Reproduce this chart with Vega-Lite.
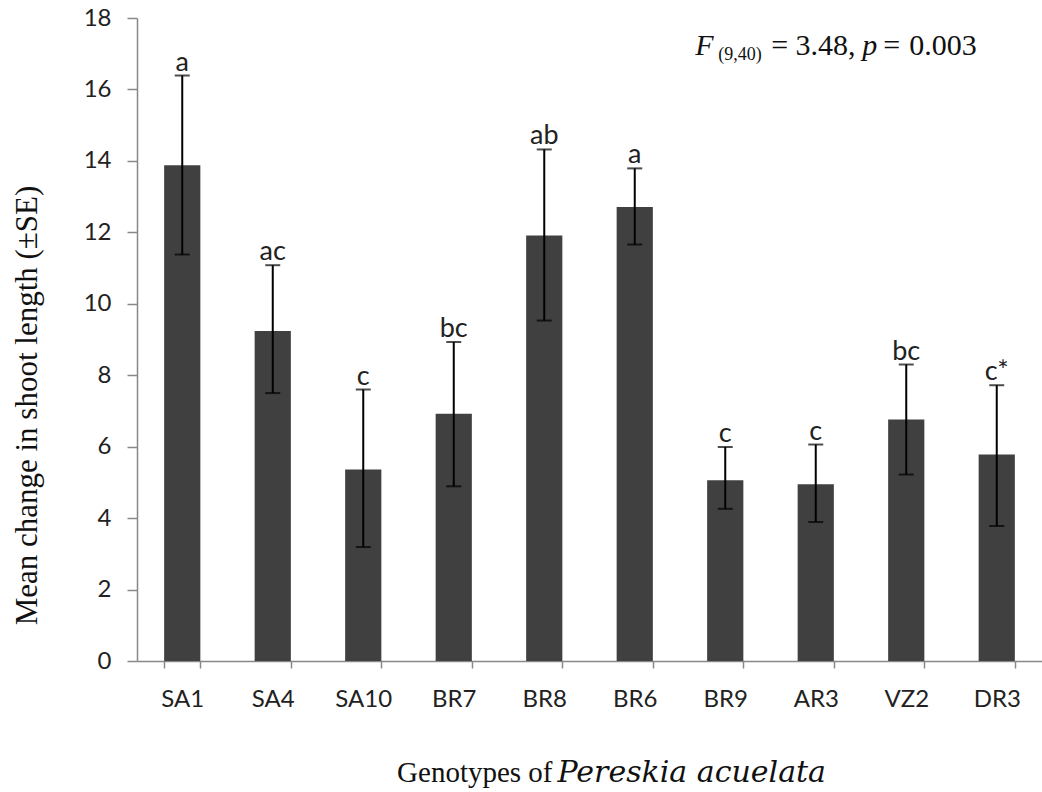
{
  "$schema": "https://vega.github.io/schema/vega-lite/v6.json",
  "width": 905,
  "height": 643,
  "autosize": {"type": "none"},
  "padding": {"left": 137, "top": 18, "right": 0, "bottom": 131},
  "background": "white",
  "config": {
    "view": {"stroke": null},
    "axis": {
      "domainColor": "#888888",
      "domainWidth": 1.5,
      "tickColor": "#888888",
      "tickWidth": 1.5,
      "grid": false,
      "labelFont": "Lato",
      "labelFontSize": 24,
      "labelColor": "#222222",
      "titleColor": "#111111",
      "titleFontWeight": "normal"
    }
  },
  "data": {
    "values": [
      {"genotype": "SA1", "mean": 13.88, "lo": 11.38, "hi": 16.39, "letter": "a"},
      {"genotype": "SA4", "mean": 9.24, "lo": 7.5, "hi": 11.08, "letter": "ac"},
      {"genotype": "SA10", "mean": 5.36, "lo": 3.19, "hi": 7.6, "letter": "c"},
      {"genotype": "BR7", "mean": 6.92, "lo": 4.89, "hi": 8.93, "letter": "bc"},
      {"genotype": "BR8", "mean": 11.91, "lo": 9.53, "hi": 14.32, "letter": "ab"},
      {"genotype": "BR6", "mean": 12.71, "lo": 11.66, "hi": 13.79, "letter": "a"},
      {"genotype": "BR9", "mean": 5.06, "lo": 4.26, "hi": 5.99, "letter": "c"},
      {"genotype": "AR3", "mean": 4.95, "lo": 3.89, "hi": 6.06, "letter": "c"},
      {"genotype": "VZ2", "mean": 6.76, "lo": 5.22, "hi": 8.3, "letter": "bc"},
      {"genotype": "DR3", "mean": 5.78, "lo": 3.78, "hi": 7.72, "letter": "c*"}
    ]
  },
  "resolve": {"axis": {"x": "independent"}},
  "layer": [
    {
      "mark": {"type": "bar", "color": "#404040"},
      "encoding": {
        "x": {
          "field": "genotype", "type": "nominal",
          "scale": {"domain": ["SA1","SA4","SA10","BR7","BR8","BR6","BR9","AR3","VZ2","DR3"], "paddingInner": 0.6, "paddingOuter": 0.3},
          "axis": {
            "orient": "bottom",
            "labelAngle": 0,
            "tickSize": 7,
            "tickBand": "extent",
            "labelPadding": 19,
            "title": "Genotypes of",
            "titleFont": "Liberation Serif",
            "titleFontSize": 29,
            "titleAlign": "right",
            "titleAnchor": "start",
            "titleBaseline": "alphabetic",
            "titleX": 415,
            "titleY": 120
          }
        },
        "y": {
          "field": "mean", "type": "quantitative",
          "scale": {"domain": [0, 18], "nice": false},
          "axis": {
            "values": [0, 2, 4, 6, 8, 10, 12, 14, 16, 18],
            "tickSize": 10,
            "labelPadding": 16,
            "title": "Mean change in shoot length (±SE)",
            "titleFont": "Liberation Serif",
            "titleFontSize": 31,
            "titleAngle": -90,
            "titleAlign": "center",
            "titleBaseline": "alphabetic",
            "titleX": -101,
            "titleY": 387
          }
        }
      }
    },
    {
      "mark": {"type": "rule", "color": "#000000", "strokeWidth": 2},
      "encoding": {
        "x": {"field": "genotype", "type": "nominal", "scale": {"domain": ["SA1","SA4","SA10","BR7","BR8","BR6","BR9","AR3","VZ2","DR3"]}, "axis": null},
        "y": {"field": "lo", "type": "quantitative", "title": "Mean change in shoot length (±SE)"},
        "y2": {"field": "hi"}
      }
    },
    {
      "mark": {"type": "tick", "color": "#000000", "size": 15, "thickness": 2, "orient": "horizontal"},
      "encoding": {
        "x": {"field": "genotype", "type": "nominal", "scale": {"domain": ["SA1","SA4","SA10","BR7","BR8","BR6","BR9","AR3","VZ2","DR3"]}, "axis": null},
        "y": {"field": "hi", "type": "quantitative", "title": "Mean change in shoot length (±SE)"}
      }
    },
    {
      "mark": {"type": "tick", "color": "#000000", "size": 15, "thickness": 2, "orient": "horizontal"},
      "encoding": {
        "x": {"field": "genotype", "type": "nominal", "scale": {"domain": ["SA1","SA4","SA10","BR7","BR8","BR6","BR9","AR3","VZ2","DR3"]}, "axis": null},
        "y": {"field": "lo", "type": "quantitative", "title": "Mean change in shoot length (±SE)"}
      }
    },
    {
      "mark": {"type": "text", "font": "Lato", "fontSize": 27, "color": "#222222", "baseline": "alphabetic", "align": "center", "dy": -5},
      "encoding": {
        "x": {
          "field": "genotype", "type": "nominal",
          "scale": {"domain": ["SA1","SA4","SA10","BR7","BR8","BR6","BR9","AR3","VZ2","DR3"]},
          "axis": {
            "orient": "bottom",
            "labels": false,
            "ticks": false,
            "domain": false,
            "title": "Pereskia acuelata",
            "titleFont": "DejaVu Serif",
            "titleFontStyle": "italic",
            "titleFontSize": 30,
            "titleAlign": "left",
            "titleAnchor": "start",
            "titleBaseline": "alphabetic",
            "titleX": 420,
            "titleY": 120
          }
        },
        "y": {"field": "hi", "type": "quantitative", "title": "Mean change in shoot length (±SE)"},
        "text": {"field": "letter"}
      }
    },
    {
      "data": {"values": [{"t": "F"}]},
      "mark": {"type": "text", "font": "Liberation Serif", "fontStyle": "italic", "fontSize": 30, "color": "#111111", "align": "left", "baseline": "alphabetic", "dx": -12},
      "encoding": {
        "x": {"datum": "BR9", "bandPosition": 0, "axis": null},
        "y": {"datum": 16.96, "title": "Mean change in shoot length (±SE)"},
        "text": {"field": "t"}
      }
    },
    {
      "data": {"values": [{"t": "(9,40)"}]},
      "mark": {"type": "text", "font": "Liberation Serif", "fontSize": 18, "color": "#111111", "align": "left", "baseline": "alphabetic", "dx": 11, "dy": 5},
      "encoding": {
        "x": {"datum": "BR9", "bandPosition": 0, "axis": null},
        "y": {"datum": 16.96, "title": "Mean change in shoot length (±SE)"},
        "text": {"field": "t"}
      }
    },
    {
      "data": {"values": [{"t": "= 3.48,"}]},
      "mark": {"type": "text", "font": "Liberation Serif", "fontSize": 30, "color": "#111111", "align": "left", "baseline": "alphabetic", "dx": 64},
      "encoding": {
        "x": {"datum": "BR9", "bandPosition": 0, "axis": null},
        "y": {"datum": 16.96, "title": "Mean change in shoot length (±SE)"},
        "text": {"field": "t"}
      }
    },
    {
      "data": {"values": [{"t": "p"}]},
      "mark": {"type": "text", "font": "Liberation Serif", "fontStyle": "italic", "fontSize": 30, "color": "#111111", "align": "left", "baseline": "alphabetic", "dx": 155},
      "encoding": {
        "x": {"datum": "BR9", "bandPosition": 0, "axis": null},
        "y": {"datum": 16.96, "title": "Mean change in shoot length (±SE)"},
        "text": {"field": "t"}
      }
    },
    {
      "data": {"values": [{"t": "="}]},
      "mark": {"type": "text", "font": "Liberation Serif", "fontSize": 30, "color": "#111111", "align": "left", "baseline": "alphabetic", "dx": 176},
      "encoding": {
        "x": {"datum": "BR9", "bandPosition": 0, "axis": null},
        "y": {"datum": 16.96, "title": "Mean change in shoot length (±SE)"},
        "text": {"field": "t"}
      }
    },
    {
      "data": {"values": [{"t": "0.003"}]},
      "mark": {"type": "text", "font": "Liberation Serif", "fontSize": 30, "color": "#111111", "align": "left", "baseline": "alphabetic", "dx": 202},
      "encoding": {
        "x": {"datum": "BR9", "bandPosition": 0, "axis": null},
        "y": {"datum": 16.96, "title": "Mean change in shoot length (±SE)"},
        "text": {"field": "t"}
      }
    }
  ]
}
